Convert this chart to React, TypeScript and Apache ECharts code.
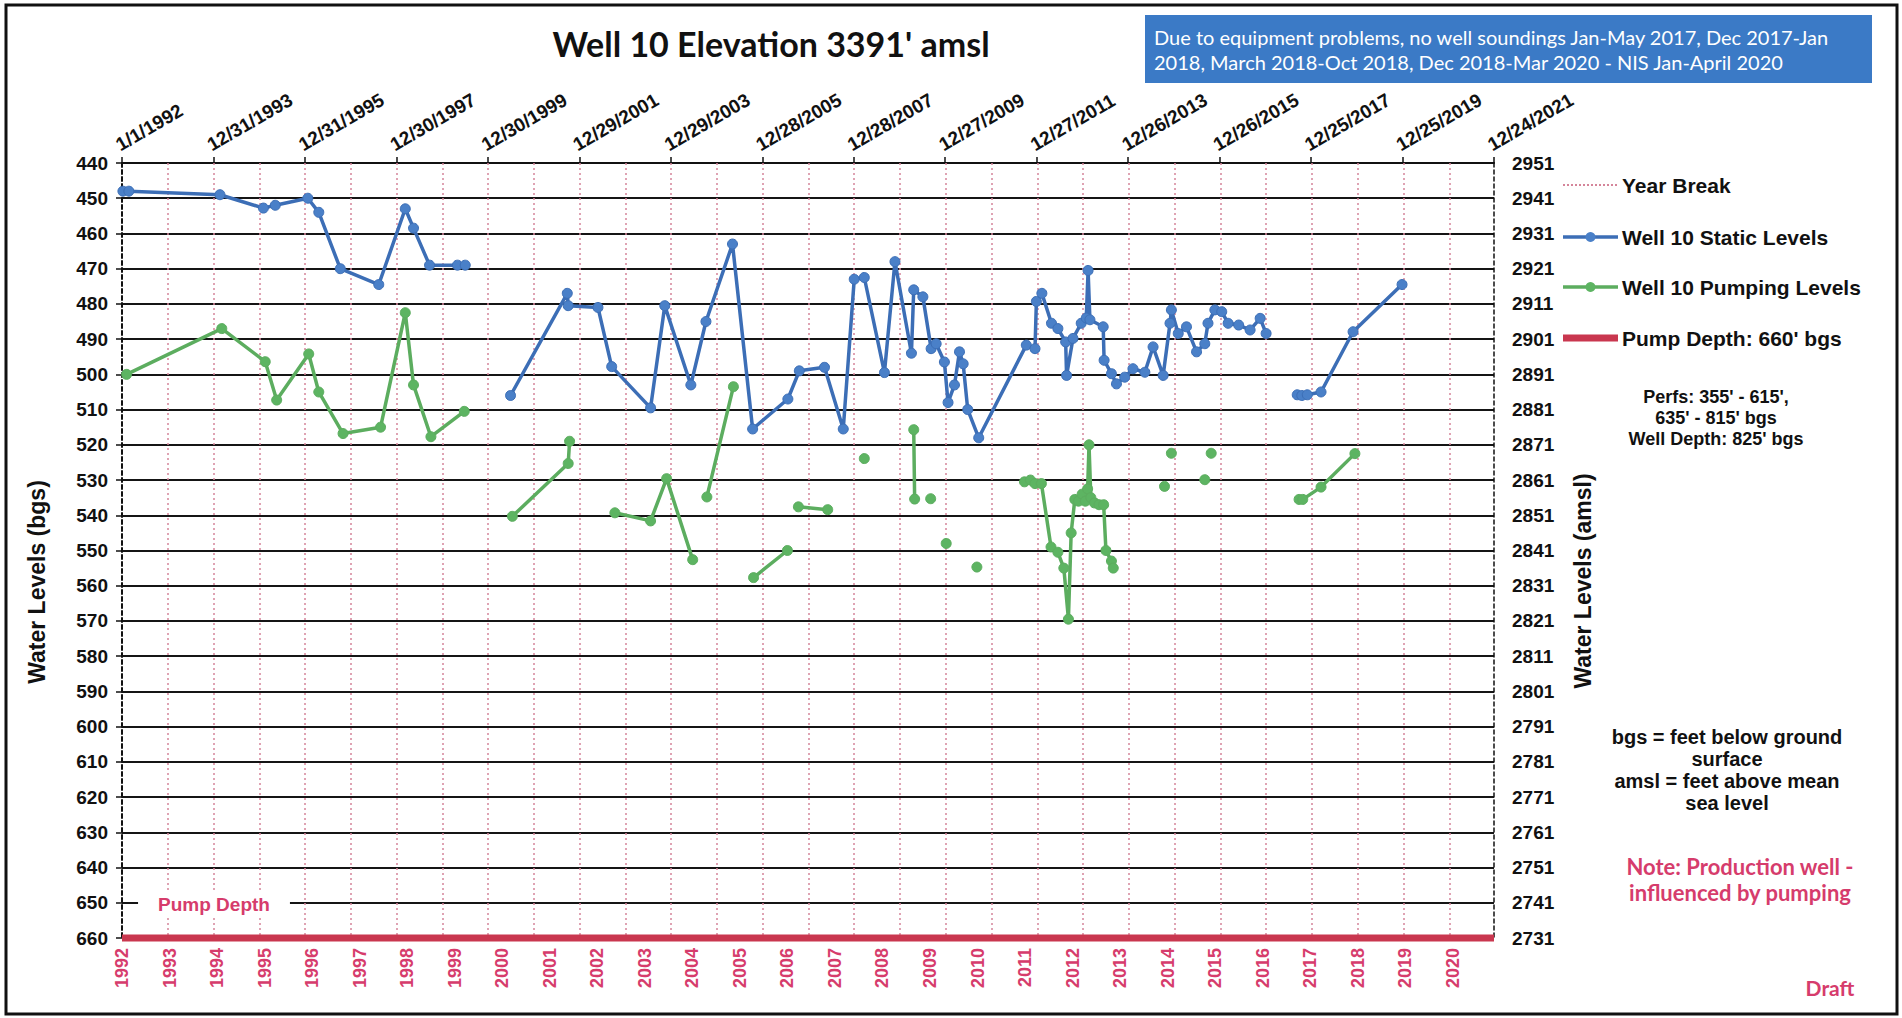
import React, { useEffect, useRef } from "react";
import * as echarts from "echarts";

// ---------- data (decimal years, water levels in feet bgs) ----------
const staticYears = [
  1992.02, 1992.15, 1994.14, 1995.09, 1995.35, 1996.06, 1996.3, 1996.77, 1997.61, 1998.19, 1998.37, 1998.72, 1999.33, 1999.5, null,
  2000.49, 2001.73, 2001.75, 2002.4, 2002.7, 2003.55, 2003.86, 2004.43, 2004.76, 2005.34, 2005.78, 2006.55, 2006.8, 2007.35, 2007.76,
  2008.0, 2008.22, 2008.66, 2008.89, 2009.25, 2009.3, 2009.5, 2009.68, 2009.79, 2009.97, 2010.05, 2010.19, 2010.3, 2010.38, 2010.48,
  2010.72, 2011.76, 2011.95, 2011.98, 2012.1, 2012.31, 2012.45, 2012.62, 2012.64, 2012.78, 2012.96, 2013.07, 2013.11, 2013.15,
  2013.44, 2013.46, 2013.62, 2013.73, 2013.91, 2014.09, 2014.35, 2014.53, 2014.75, 2014.9, 2014.93, 2015.08, 2015.26, 2015.48,
  2015.66, 2015.73, 2015.88, 2016.03, 2016.17, 2016.4, 2016.65, 2016.87, 2017.0, null,
  2017.68, 2017.78, 2017.9, 2018.2, 2018.9, 2019.97,
];
const staticLevels = [
  448, 448, 449, 452.8, 452, 450, 454, 470, 474.5, 453, 458.5, 469, 469, 469, null,
  506, 477, 480.5, 481, 497.8, 509.5, 480.5, 503, 485, 463, 515.5, 507, 499, 498, 515.5,
  473, 472.5, 499.5, 468, 494, 476, 478, 492.7, 491.3, 496.5, 508, 503, 493.6, 497, 510,
  518, 491.7, 492.7, 479.3, 477, 485.5, 487, 490.8, 500.3, 489.8, 485.5, 484, 470.5, 484.5,
  486.5, 496, 499.8, 502.7, 500.8, 498.4, 499.4, 492.2, 500.3, 485.5, 481.7, 488.4, 486.5, 493.6,
  491.3, 485.5, 481.7, 482.2, 485.5, 486, 487.4, 484.1, 488.4, null,
  505.8, 506, 505.8, 505, 487.9, 474.5,
];

const pumpYears = [
  1992.1, 1994.18, 1995.13, 1995.38, 1996.08, 1996.3, 1996.83, 1997.65, 1998.19, 1998.37, 1998.75, 1999.48, null,
  2000.53, 2001.75, 2001.78, null,
  2002.77, 2003.55, 2003.9, 2004.47, null,
  2004.78, 2005.36, null,
  2005.8, 2006.54, null,
  2006.78, 2007.42, null,
  2008.22, null,
  2009.3, 2009.32, null,
  2009.67, null,
  2010.01, null,
  2010.68, null,
  2011.72, 2011.85, 2011.95, 2012.09, 2012.3, 2012.45, 2012.58, 2012.68, 2012.74, 2012.82, 2012.9, 2012.98, 2013.05, 2013.1,
  2013.13, 2013.17, 2013.25, 2013.35, 2013.45, 2013.5, 2013.62, 2013.66, null,
  2014.78, null,
  2014.93, null,
  2015.66, null,
  2015.8, null,
  2017.72, 2017.8, 2018.2, 2018.94,
];
const pumpLevels = [
  500, 487, 496.4, 507.3, 494.2, 505, 516.8, 515, 482.5, 503, 517.7, 510.5, null,
  540.3, 525.3, 519, null,
  539.3, 541.6, 529.6, 552.6, null,
  534.8, 503.5, null,
  557.7, 550, null,
  537.6, 538.4, null,
  523.9, null,
  515.7, 535.4, null,
  535.3, null,
  548, null,
  554.7, null,
  530.5, 530, 531, 531, 549, 550.5, 555, 569.5, 545, 535.5, 536, 534, 536, 532.5,
  520, 535, 536.5, 537, 537, 550, 553, 555, null,
  531.8, null,
  522.4, null,
  529.9, null,
  522.4, null,
  535.5, 535.5, 532, 522.5,
];

const PUMP_DEPTH = 660;
const ELEVATION = 3391;
const Y_MIN = 440;
const Y_MAX = 660;
const Y_STEP = 10;
const AXIS_DAYS = 10950; // 1/1/1992 .. 12/24/2021
const TICK_DAYS = 730;
const breakYears = Array.from({ length: 29 }, (_, i) => 1993 + i);
const labelYears = { first: 1992, last: 2020 };

// ---------- helpers ----------
const DAY = 86400000;
const START = Date.UTC(1992, 0, 1);
const toDays = (y: number | null) => (y == null ? NaN : (y - 1992) * 365.25);
const fmtDate = (v: number) => {
  const d = new Date(START + Math.round(v) * DAY);
  return `${d.getUTCMonth() + 1}/${d.getUTCDate()}/${d.getUTCFullYear()}`;
};
const pairs = (xs: (number | null)[], ys: (number | null)[]) =>
  xs.map((x, i) => [toDays(x), ys[i] == null ? NaN : ys[i]]);

const PINK = "#D63C6C";
const BLUE = "#3C6EB6";
const BLUE_M = "#4A80C8";
const GREEN = "#5CAD5F";
const GREEN_M = "#5DB462";
const RED = "#C9374F";
const ARIAL = "'Liberation Sans', Arial, sans-serif";
const CAL = "Lato, 'Open Sans', sans-serif";

export default function App() {
  const ref = useRef<HTMLDivElement>(null);
  useEffect(() => {
    if (!ref.current) return;
    const chart = echarts.init(ref.current, null, { renderer: "svg" });
    const gridLeft = 122;
    const gridRight = 408;
    const gridTop = 163;
    const gridBottom = 80;

    const legendY = [185, 237, 287, 338];
    const lx0 = 1563;
    const lx1 = 1618;
    const ltx = 1622;
    const legendFont = `bold 21px ${ARIAL}`;

    const option: any = {
      animation: false,
      backgroundColor: "#ffffff",
      grid: { left: gridLeft, right: gridRight, top: gridTop, bottom: gridBottom, containLabel: false },
      xAxis: [
        {
          type: "value",
          position: "top",
          min: 0,
          max: AXIS_DAYS,
          interval: TICK_DAYS,
          axisLine: { show: true, lineStyle: { color: "#111", width: 2 } },
          axisTick: { show: true, length: 6, inside: false, lineStyle: { color: "#111", width: 1.5 } },
          axisLabel: {
            rotate: -30,
            margin: 9,
            align: "left",
            verticalAlign: "bottom",
            color: "#111",
            fontFamily: ARIAL,
            fontWeight: "bold",
            fontSize: 19,
            formatter: (v: number) => fmtDate(v),
          },
          splitLine: { show: false },
        },
        {
          type: "value",
          position: "bottom",
          min: labelYears.first,
          max: labelYears.first + ((labelYears.last - labelYears.first) * 30) / 29.1,
          interval: 1,
          axisLine: { show: false },
          axisTick: { show: false },
          splitLine: { show: false },
          axisLabel: {
            rotate: 90,
            margin: 10,
            color: PINK,
            fontFamily: ARIAL,
            fontWeight: "bold",
            fontSize: 18,
            showMaxLabel: false,
            formatter: (v: number) =>
              Math.abs(v - Math.round(v)) < 1e-6 && v <= labelYears.last ? String(Math.round(v)) : "",
          },
        },
      ],
      yAxis: [
        {
          type: "value",
          inverse: true,
          min: Y_MIN,
          max: Y_MAX,
          interval: Y_STEP,
          axisLine: { show: true, lineStyle: { color: "#111", width: 2, type: [4, 3] } },
          axisTick: { show: true, length: 6, lineStyle: { color: "#111", width: 1.5 } },
          axisLabel: { color: "#111", fontFamily: ARIAL, fontWeight: "bold", fontSize: 19, margin: 14 },
          splitLine: { show: true, lineStyle: { color: "#151515", width: 1.8 } },
        },
        {
          type: "value",
          inverse: true,
          position: "right",
          min: Y_MIN,
          max: Y_MAX,
          interval: Y_STEP,
          axisLine: { show: true, lineStyle: { color: "#111", width: 1.5, type: [4, 3] } },
          axisTick: { show: false },
          axisLabel: {
            color: "#111",
            fontFamily: ARIAL,
            fontWeight: "bold",
            fontSize: 19,
            margin: 18,
            formatter: (v: number) => String(ELEVATION - v),
          },
          splitLine: { show: false },
        },
      ],
      series: [
        {
          name: "Pump Depth: 660' bgs",
          type: "line",
          xAxisIndex: 0,
          yAxisIndex: 0,
          data: [
            [0, PUMP_DEPTH],
            [AXIS_DAYS, PUMP_DEPTH],
          ],
          showSymbol: false,
          symbol: "none",
          clip: false,
          z: 4,
          lineStyle: { color: RED, width: 7 },
          markLine: {
            silent: true,
            symbol: ["none", "none"],
            label: { show: false },
            z: 1,
            lineStyle: { color: "#D5859A", width: 1.5, type: [2, 3] },
            data: breakYears.map((y) => ({ xAxis: (Date.UTC(y, 0, 1) - START) / DAY })),
          },
        },
        {
          name: "Well 10 Static Levels",
          type: "line",
          xAxisIndex: 0,
          yAxisIndex: 0,
          data: pairs(staticYears, staticLevels),
          connectNulls: false,
          symbol: "circle",
          symbolSize: 10,
          showAllSymbol: true,
          z: 6,
          lineStyle: { color: BLUE, width: 3.5 },
          itemStyle: { color: BLUE_M, borderColor: BLUE, borderWidth: 1 },
        },
        {
          name: "Well 10 Pumping Levels",
          type: "line",
          xAxisIndex: 0,
          yAxisIndex: 0,
          data: pairs(pumpYears, pumpLevels),
          connectNulls: false,
          symbol: "circle",
          symbolSize: 10,
          showAllSymbol: true,
          z: 5,
          lineStyle: { color: GREEN, width: 3.5 },
          itemStyle: { color: GREEN_M, borderColor: GREEN, borderWidth: 1 },
        },
      ],
      graphic: [
        { type: "rect", shape: { x: 6, y: 5, width: 1891, height: 1009 }, style: { fill: "none", stroke: "#111", lineWidth: 3 }, z: 100 },
        {
          type: "text",
          x: 771,
          y: 43,
          style: { text: "Well 10 Elevation 3391' amsl", font: `bold 34px ${CAL}`, fill: "#111", textAlign: "center", textVerticalAlign: "middle" },
        },
        { type: "rect", shape: { x: 1145, y: 15, width: 727, height: 68 }, style: { fill: "#3B7AC6" } },
        {
          type: "text",
          x: 1154,
          y: 37,
          style: { text: "Due to equipment problems, no well soundings Jan-May 2017, Dec 2017-Jan", font: `20px ${CAL}`, fill: "#fff", textAlign: "left", textVerticalAlign: "middle" },
        },
        {
          type: "text",
          x: 1154,
          y: 62,
          style: { text: "2018, March 2018-Oct 2018, Dec 2018-Mar 2020 - NIS Jan-April 2020", font: `20px ${CAL}`, fill: "#fff", textAlign: "left", textVerticalAlign: "middle" },
        },
        // axis names
        {
          type: "text",
          x: 37,
          y: 582,
          rotation: Math.PI / 2,
          style: { text: "Water Levels (bgs)", font: `bold 23px ${ARIAL}`, fill: "#111", textAlign: "center", textVerticalAlign: "middle" },
        },
        {
          type: "text",
          x: 1583,
          y: 581,
          rotation: Math.PI / 2,
          style: { text: "Water Levels (amsl)", font: `bold 23px ${ARIAL}`, fill: "#111", textAlign: "center", textVerticalAlign: "middle" },
        },
        // legend
        { type: "line", shape: { x1: lx0, y1: legendY[0], x2: lx1, y2: legendY[0] }, style: { stroke: "#D5859A", lineWidth: 2, lineDash: [2, 2] } },
        { type: "text", x: ltx, y: legendY[0], style: { text: "Year Break", font: legendFont, fill: "#111", textVerticalAlign: "middle" } },
        { type: "line", shape: { x1: lx0, y1: legendY[1], x2: lx1, y2: legendY[1] }, style: { stroke: BLUE, lineWidth: 3.5 } },
        { type: "circle", shape: { cx: (lx0 + lx1) / 2, cy: legendY[1], r: 5 }, style: { fill: BLUE_M } },
        { type: "text", x: ltx, y: legendY[1], style: { text: "Well 10 Static Levels", font: legendFont, fill: "#111", textVerticalAlign: "middle" } },
        { type: "line", shape: { x1: lx0, y1: legendY[2], x2: lx1, y2: legendY[2] }, style: { stroke: GREEN, lineWidth: 3.5 } },
        { type: "circle", shape: { cx: (lx0 + lx1) / 2, cy: legendY[2], r: 5 }, style: { fill: GREEN_M } },
        { type: "text", x: ltx, y: legendY[2], style: { text: "Well 10 Pumping Levels", font: legendFont, fill: "#111", textVerticalAlign: "middle" } },
        { type: "line", shape: { x1: lx0, y1: legendY[3], x2: lx1, y2: legendY[3] }, style: { stroke: RED, lineWidth: 7 } },
        { type: "text", x: ltx, y: legendY[3], style: { text: "Pump Depth: 660' bgs", font: legendFont, fill: "#111", textVerticalAlign: "middle" } },
        // notes
        {
          type: "text",
          x: 1716,
          y: 418,
          style: { text: "Perfs: 355' - 615',\n635' - 815' bgs\nWell Depth: 825' bgs", font: `bold 18px ${ARIAL}`, lineHeight: 21, fill: "#111", textAlign: "center", textVerticalAlign: "middle" },
        },
        {
          type: "text",
          x: 1727,
          y: 770,
          style: { text: "bgs = feet below ground\nsurface\namsl = feet above mean\nsea level", font: `bold 20px ${ARIAL}`, lineHeight: 22, fill: "#111", textAlign: "center", textVerticalAlign: "middle" },
        },
        {
          type: "text",
          x: 1740,
          y: 879,
          style: { text: "Note: Production well -\ninfluenced by pumping", font: `bold 22px ${CAL}`, lineHeight: 26, fill: PINK, textAlign: "center", textVerticalAlign: "middle" },
        },
        {
          type: "text",
          x: 1830,
          y: 987,
          style: { text: "Draft", font: `bold 21px ${CAL}`, fill: PINK, textAlign: "center", textVerticalAlign: "middle" },
        },
        {
          type: "text",
          x: 214,
          y: 904,
          z: 50,
          style: {
            text: "Pump Depth",
            font: `bold 19px ${ARIAL}`,
            fill: PINK,
            textAlign: "center",
            textVerticalAlign: "middle",
            backgroundColor: "#fff",
            padding: [2, 20, 2, 20],
          },
        },
      ],
    };
    chart.setOption(option);
    return () => chart.dispose();
  }, []);
  return <div ref={ref} style={{ position: "fixed", left: 0, top: 0, width: 1902, height: 1018, background: "#fff" }} />;
}
